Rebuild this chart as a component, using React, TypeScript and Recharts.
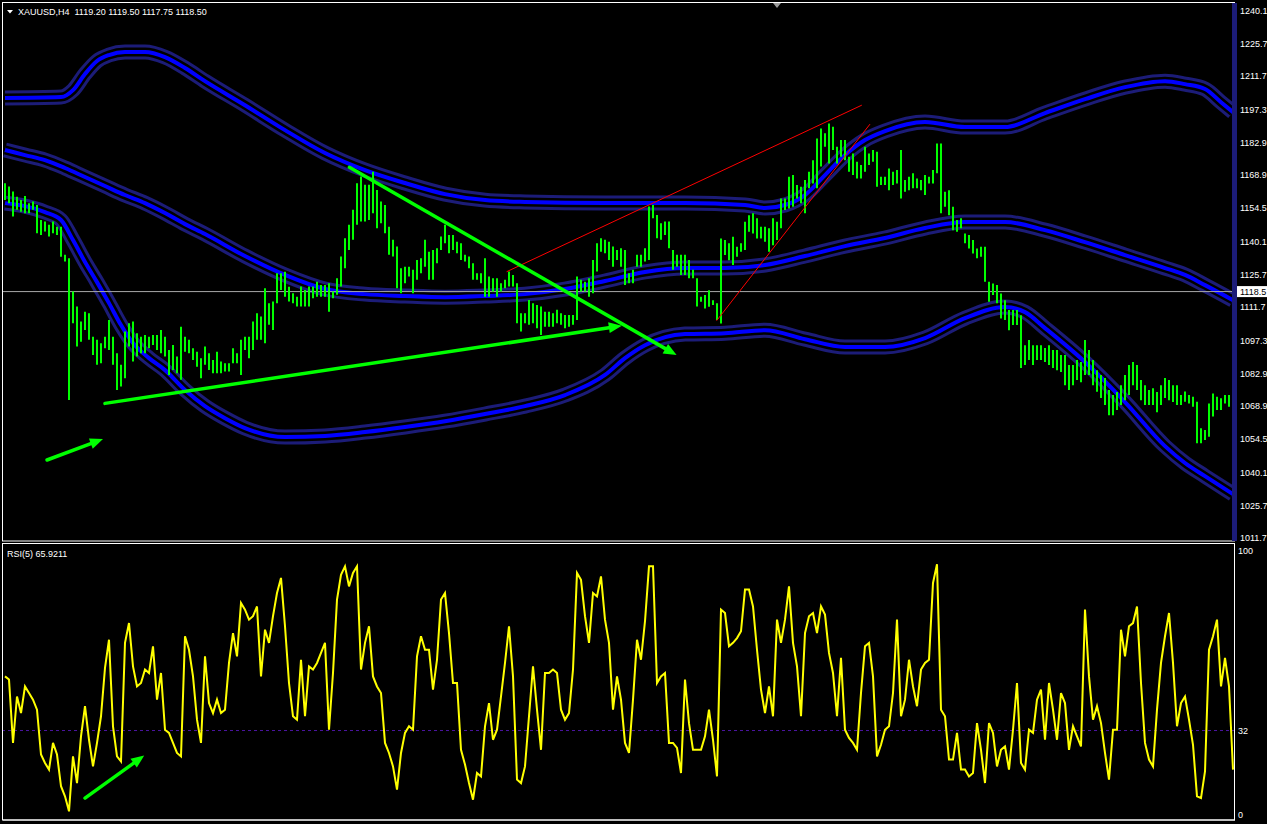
import React from 'react';
import { ComposedChart, Bar, Line, XAxis, YAxis, ReferenceLine } from 'recharts';

// ---------- data ----------
const HIGH = [
  1165.4,1164.0,1161.8,1159.6,1158.2,1159.9,1156.7,1157.5,1156.0,1149.5,
  1148.8,1147.4,1148.8,1146.6,1146.6,1134.4,1132.9,1118.5,1112.0,1105.5,
  1109.8,1109.1,1099.0,1097.6,1096.1,1099.0,1106.2,1099.0,1091.8,1086.8,
  1101.2,1104.8,1105.5,1100.5,1099.0,1099.7,1099.0,1099.7,1099.7,1101.9,
  1099.0,1093.2,1095.4,1090.4,1103.3,1099.0,1097.6,1094.0,1092.5,1089.6,
  1094.7,1091.8,1088.9,1092.5,1088.2,1087.5,1087.5,1094.0,1091.8,1097.6,
  1099.0,1099.0,1105.5,1109.1,1107.7,1119.9,1113.4,1114.2,1126.4,1126.4,
  1127.1,1120.6,1117.8,1116.3,1120.7,1119.2,1120.7,1120.7,1122.8,1121.4,
  1121.4,1122.1,1118.5,1124.3,1133.7,1141.6,1147.4,1153.9,1165.4,1168.3,
  1164.7,1164.7,1170.4,1162.5,1157.5,1156.0,1146.6,1140.9,1138.0,1128.6,
  1129.3,1129.3,1127.9,1132.2,1132.9,1140.9,1135.8,1136.5,1137.3,1142.3,
  1147.4,1143.0,1143.0,1140.1,1139.4,1134.4,1133.7,1130.8,1126.4,1126.4,
  1132.9,1125.0,1124.3,1124.3,1122.1,1123.6,1127.2,1125.7,1122.1,1109.1,
  1109.1,1114.9,1113.5,1112.7,1112.0,1109.8,1109.8,1109.1,1110.6,1109.1,
  1108.4,1108.4,1108.4,1125.0,1123.6,1122.8,1124.3,1132.2,1139.4,1141.6,
  1140.9,1140.1,1138.0,1136.5,1137.3,1136.5,1126.4,1127.9,1134.4,1134.4,
  1137.3,1155.3,1156.0,1151.7,1148.1,1148.8,1148.8,1136.5,1134.4,1134.4,
  1134.4,1132.2,1127.9,1124.3,1116.3,1117.0,1119.1,1114.8,1113.4,1141.5,
  1140.8,1139.4,1142.2,1137.9,1139.4,1148.7,1151.6,1152.4,1150.2,1146.6,
  1146.6,1145.9,1150.2,1148.7,1158.8,1158.8,1168.2,1169.0,1164.6,1163.9,
  1166.8,1170.4,1175.4,1184.8,1189.1,1187.0,1191.3,1189.9,1181.2,1184.1,
  1184.1,1176.9,1178.3,1174.7,1173.3,1181.2,1178.3,1179.8,1179.0,1168.2,
  1168.2,1171.8,1170.4,1171.1,1179.8,1166.8,1168.2,1169.7,1167.5,1166.8,
  1169.0,1168.2,1171.1,1182.6,1182.6,1161.7,1162.4,1155.2,1149.5,1150.2,
  1143.7,1143.0,1140.8,1137.2,1137.9,1137.9,1122.8,1122.0,1121.3,1117.7,
  1114.8,1110.5,1110.5,1110.5,1108.3,1095.3,1097.5,1095.3,1095.3,1095.3,
  1094.1,1095.3,1093.2,1093.2,1091.0,1091.0,1086.7,1086.7,1088.9,1088.0,
  1097.5,1093.2,1088.9,1084.5,1082.4,1081.1,1075.9,1073.7,1075.0,1078.0,
  1082.4,1086.7,1088.0,1086.7,1080.2,1078.0,1075.9,1076.7,1075.0,1078.0,
  1081.1,1080.2,1078.0,1078.0,1073.7,1075.2,1073.7,1073.0,1070.8,1059.3,
  1058.6,1070.1,1074.4,1073.0,1072.3,1073.7,1073.7,1071.6,
];

const LOW = [
  1158.2,1156.7,1151.0,1153.9,1153.1,1152.4,1152.4,1153.9,1143.8,1143.0,
  1144.5,1142.3,1143.8,1143.0,1133.6,1131.5,1071.6,1104.8,1094.7,1096.8,
  1101.9,1097.6,1091.1,1086.8,1087.5,1094.0,1093.2,1086.8,1075.9,1077.4,
  1081.0,1094.7,1088.2,1090.4,1091.8,1091.8,1094.0,1095.4,1093.2,1091.8,
  1090.4,1082.4,1084.6,1083.1,1080.3,1092.5,1091.8,1088.9,1086.0,1081.0,
  1086.8,1084.6,1083.1,1083.1,1083.1,1083.9,1083.9,1087.5,1087.5,1082.4,
  1093.2,1089.6,1093.2,1097.6,1097.6,1096.1,1104.1,1101.9,1113.4,1119.2,
  1116.3,1114.2,1113.4,1112.0,1112.0,1112.0,1112.0,1115.6,1116.3,1116.3,
  1116.3,1109.8,1115.6,1117.1,1120.7,1128.6,1136.5,1140.9,1147.4,1148.8,
  1148.8,1149.5,1152.4,1145.9,1148.1,1143.8,1134.4,1133.7,1119.9,1117.8,
  1122.1,1125.0,1117.8,1123.6,1126.4,1129.3,1123.6,1123.6,1130.8,1136.5,
  1139.4,1135.1,1136.5,1135.1,1132.2,1131.5,1128.6,1123.6,1123.6,1122.1,
  1116.3,1116.3,1118.5,1116.3,1118.5,1119.9,1120.7,1120.7,1104.8,1101.2,
  1104.8,1104.1,1104.8,1102.6,1099.7,1103.3,1103.3,1103.3,1104.8,1104.1,
  1102.6,1103.3,1104.1,1106.2,1118.5,1118.5,1116.3,1117.8,1127.2,1135.8,
  1135.1,1132.2,1129.3,1132.2,1129.3,1121.4,1122.1,1122.1,1129.3,1129.3,
  1131.5,1132.2,1150.2,1141.6,1140.9,1143.0,1137.3,1127.9,1129.3,1125.7,
  1125.7,1124.3,1124.3,1112.0,1114.1,1111.2,1111.9,1112.7,1106.2,1104.7,
  1134.3,1132.1,1130.0,1133.6,1135.8,1136.5,1144.4,1143.7,1141.5,1141.5,
  1140.1,1135.8,1138.6,1140.8,1145.9,1153.8,1154.5,1155.2,1158.8,1156.7,
  1152.4,1163.2,1165.3,1163.2,1172.6,1181.2,1174.0,1179.8,1174.0,1176.9,
  1175.4,1170.4,1169.0,1167.5,1167.5,1170.4,1173.3,1174.7,1163.9,1164.6,
  1164.6,1162.4,1164.6,1165.3,1158.8,1161.7,1162.4,1163.2,1163.2,1162.4,
  1160.3,1165.3,1165.3,1169.7,1152.4,1155.2,1151.6,1145.1,1144.4,1145.9,
  1139.4,1137.2,1135.0,1132.9,1133.6,1122.8,1114.1,1117.0,1113.4,1106.9,
  1106.2,1101.8,1104.0,1104.0,1085.4,1086.7,1088.9,1086.7,1088.9,1088.9,
  1088.0,1086.7,1085.4,1084.5,1083.7,1078.0,1075.9,1078.0,1080.2,1079.3,
  1082.4,1082.4,1078.0,1075.1,1072.4,1069.4,1065.0,1065.0,1067.2,1069.4,
  1071.5,1073.7,1078.0,1075.9,1071.5,1069.4,1069.4,1069.4,1066.3,1069.4,
  1072.4,1071.5,1070.7,1069.4,1069.4,1070.8,1070.1,1068.7,1052.8,1052.8,
  1054.2,1055.7,1064.4,1067.2,1067.2,1070.1,1068.7,1055.7,
];

const RSI = [
  52.5,51.3,27.3,44.9,38.6,48.7,46.2,43.7,39.9,22.9,
  19.7,17.2,27.3,22.9,10.9,7.1,1.4,22.2,12.1,29.8,
  41.2,28.5,18.4,27.3,37.4,55.7,66.4,33.6,22.2,20.3,
  65.2,72.7,56.3,48.7,50.0,55.1,53.8,63.9,43.7,53.8,
  32.3,31.1,27.3,23.5,22.2,67.7,62.6,52.5,36.1,27.3,
  60.1,42.4,38.6,43.7,38.6,39.9,57.6,68.9,60.1,80.3,
  77.8,74.0,75.3,79.0,52.5,70.2,65.2,75.3,84.1,89.8,
  71.5,50.0,37.4,36.1,58.8,37.4,56.3,55.1,57.6,61.4,
  65.2,32.3,53.8,81.6,91.0,94.2,86.6,91.7,94.2,55.1,
  65.2,71.5,52.5,48.7,46.2,27.3,23.5,18.4,9.6,23.5,
  31.1,33.6,32.3,60.1,67.7,62.6,62.6,47.5,58.8,81.6,
  84.1,68.9,50.0,50.0,24.7,19.1,12.1,5.8,15.9,14.6,
  33.6,42.4,28.5,32.3,44.9,57.6,71.5,52.5,13.4,12.1,
  18.4,37.4,56.3,39.9,24.7,53.8,53.8,55.1,53.8,39.9,
  36.1,38.6,55.1,91.7,89.1,75.3,65.2,84.1,82.8,90.4,
  74.0,65.2,39.9,52.5,43.7,27.3,23.5,43.7,66.4,58.8,
  73.4,94.2,94.2,50.0,52.5,53.8,27.3,27.3,25.4,15.9,
  51.3,34.8,24.7,24.7,24.7,29.8,39.9,28.5,14.6,77.8,
  76.5,63.9,65.2,67.0,69.6,85.4,85.4,79.0,62.6,47.5,
  38.6,48.7,37.4,74.0,65.2,74.0,86.6,65.2,56.3,37.4,
  68.9,75.3,76.5,68.9,79.0,75.9,61.4,53.8,37.4,59.5,
  32.3,29.2,27.3,24.7,46.2,63.9,65.2,52.5,22.2,26.6,
  32.3,33.6,46.2,74.0,37.4,43.7,58.8,48.7,41.2,55.1,
  57.6,58.8,87.9,95.0,39.9,37.4,21.0,21.0,31.1,17.2,
  17.2,14.6,15.9,34.8,24.7,12.1,34.8,31.1,18.4,24.7,
  26.0,17.2,32.3,50.0,19.7,17.2,32.3,31.1,43.7,47.5,
  28.5,50.0,39.9,28.5,46.2,42.4,24.7,33.6,29.8,26.0,
  77.8,52.5,36.1,41.2,34.8,23.5,13.4,32.3,32.3,70.2,
  60.1,71.5,72.7,79.0,50.0,27.3,21.0,18.4,39.9,57.6,
  67.7,76.5,57.6,33.6,42.4,44.9,36.1,26.6,7.1,6.4,
  16.5,62.6,67.7,74.0,48.7,59.5,48.7,17.2,
];

// band samples: [bar index, price]
const UPPER_BAND: [number, number][] = [
  [0,1202.3],[14,1202.7],[17,1205.7],[20,1212.7],[23,1218.3],[26,1220.9],[30,1222.2],[35,1222.2],
  [40,1220.0],[45,1215.3],[50,1209.6],[60,1199.2],[70,1188.4],[80,1178.5],[90,1171.1],[100,1165.5],
  [110,1160.7],[120,1158.1],[130,1157.3],[150,1156.8],[170,1156.8],[185,1156.0],[190,1154.7],[195,1156.0],
  [200,1160.3],[205,1168.9],[210,1177.6],[215,1184.1],[220,1188.0],[230,1191.9],[240,1189.7],[250,1189.7],
  [260,1195.8],[270,1201.8],[280,1207.0],[290,1209.6],[295,1208.3],[300,1206.2],[304,1200.5],[307,1196.2],
];
const MIDDLE_BAND: [number, number][] = [
  [0,1179.8],[5,1177.6],[10,1175.4],[15,1172.0],[20,1168.1],[25,1164.2],[30,1160.3],[35,1156.8],
  [40,1152.5],[45,1147.7],[50,1143.4],[60,1133.9],[70,1125.7],[80,1119.6],[90,1117.4],[100,1116.6],
  [110,1116.1],[120,1116.6],[130,1117.4],[140,1119.6],[150,1123.1],[160,1127.0],[170,1128.7],[180,1128.7],
  [190,1130.0],[200,1133.9],[210,1138.2],[220,1141.7],[230,1146.0],[240,1148.6],[250,1148.6],[260,1145.1],
  [270,1139.9],[280,1134.3],[290,1128.7],[295,1125.7],[300,1121.3],[307,1114.8],
];
const LOWER_BAND: [number, number][] = [
  [0,1156.8],[5,1155.5],[10,1152.9],[14,1149.5],[17,1140.8],[20,1131.3],[23,1122.6],[26,1113.5],
  [29,1104.0],[32,1096.2],[36,1089.7],[40,1084.5],[45,1075.9],[50,1068.9],[55,1063.7],[60,1059.4],
  [70,1055.5],[80,1056.0],[90,1057.7],[100,1059.9],[110,1062.4],[120,1065.5],[130,1068.9],[140,1073.7],
  [150,1082.4],[155,1089.7],[160,1095.3],[170,1100.1],[180,1100.5],[190,1101.8],[200,1097.9],[210,1094.5],
  [220,1094.5],[230,1098.4],[240,1107.0],[250,1111.8],[255,1109.6],[260,1102.7],[270,1088.0],[280,1070.7],
  [290,1051.6],[295,1044.3],[300,1038.6],[307,1030.8],
];

const PRICE_TICKS = [1240.1,1225.7,1211.7,1197.3,1182.9,1168.9,1154.5,1140.1,1125.7,1118.5,1111.7,1097.3,1082.9,1068.9,1054.5,1040.1,1025.7,1011.7];
const RSI_TICKS = [100, 32, 0];
const TIME_TICKS = [16,32,48,64,80,96,112,128,144,160,176,192,208,224,240,256,272,288,304];
const BID = 1118.5;
const RSI_LEVEL = 32;
const TITLE = 'XAUUSD,H4  1119.20 1119.50 1117.75 1118.50';
const RSI_TITLE = 'RSI(5) 65.9211';

// annotations: [[index, price],[index, price]]
const GREEN_ARROWS: [number, number][][] = [
  [[25, 1070.1], [154.2, 1103.7]],
  [[86.1, 1172.3], [167.9, 1091.0]],
  [[10.5, 1045.6], [24.5, 1054.7]],
];
const RED_LINES: [number, number][][] = [
  [[125.4, 1127.1], [214.2, 1199.2]],
  [[177.9, 1105.9], [216.25, 1191.0]],
];
const RSI_ARROW: [number, number][] = [[20, 6.4], [34.8, 22.5]];

// ---------- build tables ----------
type Row = { i: number; hl: [number, number]; up?: number; mid?: number; lo?: number };
const priceRows: Row[] = HIGH.map((h, i) => ({ i, hl: [LOW[i], h] }));
UPPER_BAND.forEach(([i, v]) => { priceRows[i].up = v; });
MIDDLE_BAND.forEach(([i, v]) => { priceRows[i].mid = v; });
LOWER_BAND.forEach(([i, v]) => { priceRows[i].lo = v; });
const rsiRows = RSI.map((r, i) => ({ i, rsi: r }));

// ---------- styles ----------
const FONT = "'Liberation Sans', Arial, sans-serif";
const NAVY = '#1c1c78';
const BLUE = '#0000ff';
const GREEN = '#00ff00';
const X_DOMAIN: [number, number] = [-0.5, 307.5];

const PriceTick = (props: any) => {
  const { x, y, payload } = props;
  const v = Number(payload.value);
  const txt = v.toFixed(1);
  if (v === BID) {
    return (
      <g>
        <rect x={x - 3} y={y - 5.5} width={31} height={11} fill="#ffffff" />
        <text x={x} y={y + 3} fill="#000000" fontSize={9} fontFamily={FONT}>{txt}</text>
      </g>
    );
  }
  return <text x={x} y={y + 3} fill="#ffffff" fontSize={9} fontFamily={FONT}>{txt}</text>;
};

const RsiTick = (props: any) => {
  const { x, y, payload } = props;
  return <text x={x} y={y + 3} fill="#ffffff" fontSize={9} fontFamily={FONT}>{String(payload.value)}</text>;
};

const arrowShape = (color: string, width: number, head: number) => (p: any) => {
  const { x1, y1, x2, y2 } = p;
  const dx = x2 - x1, dy = y2 - y1;
  const len = Math.hypot(dx, dy) || 1;
  const ux = dx / len, uy = dy / len;
  const bx = x2 - ux * head, by = y2 - uy * head;
  const px = -uy, py = ux, hw = head * 0.42;
  return (
    <g>
      <line x1={x1} y1={y1} x2={bx} y2={by} stroke={color} strokeWidth={width} strokeLinecap="round" />
      <polygon points={`${x2},${y2} ${bx + px * hw},${by + py * hw} ${bx - px * hw},${by - py * hw}`} fill={color} />
    </g>
  );
};

const bandLines = (key: 'up' | 'mid' | 'lo') => [
  <Line key={key + 'n'} dataKey={key} stroke={NAVY} strokeWidth={15} dot={false} activeDot={false} connectNulls type="monotone" isAnimationActive={false} zIndex={110} />,
  <Line key={key + 'k'} dataKey={key} stroke="#000000" strokeWidth={9} dot={false} activeDot={false} connectNulls type="monotone" isAnimationActive={false} zIndex={120} />,
  <Line key={key + 'b'} dataKey={key} stroke={BLUE} strokeWidth={4} dot={false} activeDot={false} connectNulls type="monotone" isAnimationActive={false} zIndex={130} />,
];

export default function App() {
  return (
    <div style={{ position: 'absolute', left: 0, top: 0, width: 1267, height: 824, background: '#000', overflow: 'hidden' }}>
      <div style={{ position: 'absolute', left: 0, top: 0 }}>
        <ComposedChart width={1267} height={546} data={priceRows} margin={{ top: 3, right: 0, bottom: 5, left: 3 }}>
          <XAxis dataKey="i" type="number" domain={X_DOMAIN} allowDataOverflow hide />
          <YAxis orientation="right" type="number" domain={[1010.53, 1243.43]} allowDataOverflow ticks={PRICE_TICKS} interval={0}
            width={32} tickSize={0} tickMargin={5} axisLine={false} tickLine={false} tick={<PriceTick />} />
          {bandLines('up')}
          {bandLines('mid')}
          {bandLines('lo')}
          <ReferenceLine y={BID} stroke="#a8a8a8" strokeWidth={1} zIndex={150} />
          <Bar dataKey="hl" fill={GREEN} barSize={2} isAnimationActive={false} zIndex={300} />
          {RED_LINES.map((s, k) => (
            <ReferenceLine key={'r' + k} segment={[{ x: s[0][0], y: s[0][1] }, { x: s[1][0], y: s[1][1] }]} stroke="#ff0000" strokeWidth={1} zIndex={700} />
          ))}
          {GREEN_ARROWS.map((s, k) => (
            <ReferenceLine key={'g' + k} segment={[{ x: s[0][0], y: s[0][1] }, { x: s[1][0], y: s[1][1] }]} shape={arrowShape(GREEN, 3.5, 13)} zIndex={710} />
          ))}
        </ComposedChart>
      </div>
      <div style={{ position: 'absolute', left: 0, top: 543 }}>
        <ComposedChart width={1267} height={281} data={rsiRows} margin={{ top: 8, right: 0, bottom: 0, left: 3 }}>
          <XAxis dataKey="i" type="number" domain={X_DOMAIN} allowDataOverflow ticks={TIME_TICKS} interval={0} height={4}
            tickSize={4} tick={false} tickLine={{ stroke: '#ffffff' }} axisLine={{ stroke: '#ffffff' }} />
          <YAxis orientation="right" type="number" domain={[-1.894, 100]} allowDataOverflow ticks={RSI_TICKS} interval={0}
            width={32} tickSize={0} tickMargin={3} axisLine={false} tickLine={false} tick={<RsiTick />} />
          <ReferenceLine y={RSI_LEVEL} stroke="#4b14a0" strokeDasharray="3 3" zIndex={150} />
          <Line dataKey="rsi" stroke="#ffff00" strokeWidth={2} dot={false} activeDot={false} type="linear" isAnimationActive={false} zIndex={400} />
          <ReferenceLine segment={[{ x: RSI_ARROW[0][0], y: RSI_ARROW[0][1] }, { x: RSI_ARROW[1][0], y: RSI_ARROW[1][1] }]} shape={arrowShape(GREEN, 3.5, 13)} zIndex={710} />
        </ComposedChart>
      </div>
      <svg width={1267} height={824} style={{ position: 'absolute', left: 0, top: 0, pointerEvents: 'none' }}>
        <rect x={2.5} y={2.5} width={1232} height={538.5} fill="none" stroke="#ffffff" strokeWidth={1} />
        <rect x={2.5} y={543.5} width={1232} height={276.5} fill="none" stroke="#ffffff" strokeWidth={1} />
        <rect x={1232} y={3} width={5} height={538} fill={NAVY} />
        <polygon points="773,3 781,3 777,8" fill="#9a9a9a" />
        <polygon points="7,10 13,10 10,13.5" fill="#ffffff" />
        <text x={18} y={15} fill="#ffffff" fontSize={9} fontFamily={FONT} style={{ whiteSpace: 'pre' }}>{TITLE}</text>
        <text x={7} y={557} fill="#ffffff" fontSize={9} fontFamily={FONT}>{RSI_TITLE}</text>
      </svg>
    </div>
  );
}
